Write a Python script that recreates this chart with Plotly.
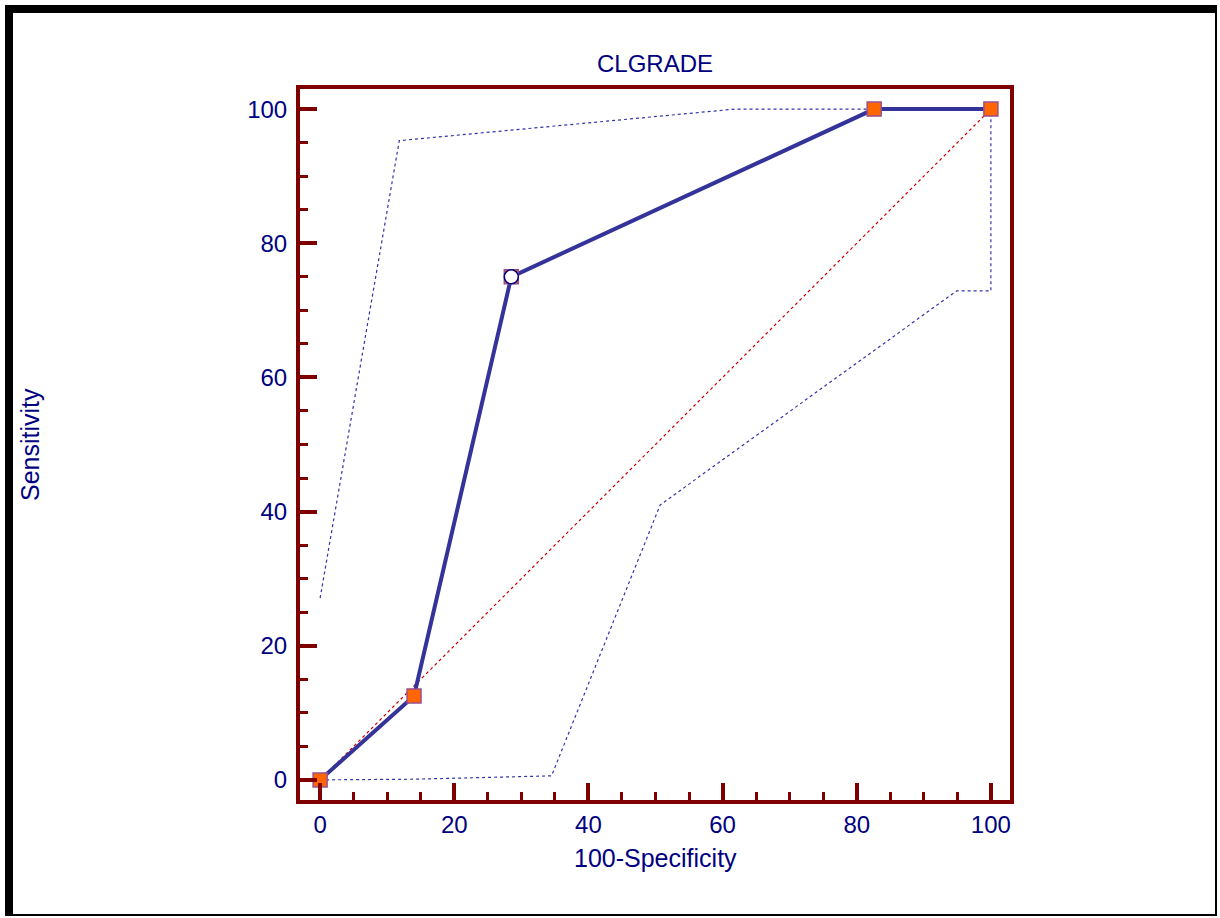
import plotly.graph_objects as go

# ROC curve data
roc_x = [0, 14.0, 28.5, 82.6, 100]
roc_y = [0, 12.5, 75.0, 100, 100]

# optimal criterion point
opt_x = [28.5]
opt_y = [75.0]

# confidence bounds
upper_x = [0, 11.8, 61.8, 82.6, 100]
upper_y = [27.1, 95.3, 100, 100, 100]
lower_x = [0, 14.0, 34.5, 50.7, 94.9, 100, 100]
lower_y = [0, 0.1, 0.6, 41.0, 72.9, 72.9, 100]

# reference diagonal
diag_x = [0, 100]
diag_y = [0, 100]

tick_vals = [0, 20, 40, 60, 80, 100]
tick_text = ["0", "20", "40", "60", "80", "100"]

FONT = "Liberation Sans, Arial, sans-serif"
NAVY = "#000080"
MAROON = "#7F0000"

W, H = 1220, 918
L, R, T, B = 300, 210, 89, 118
PW, PH = W - L - R, H - T - B


def px(x):
    return (x - L) / PW


def py(y):
    return (H - B - y) / PH


fig = go.Figure()
fig.add_trace(go.Scatter(x=upper_x, y=upper_y, mode="lines",
                         line=dict(color="#3333AA", width=1.2, dash="dot"),
                         hoverinfo="skip", showlegend=False))
fig.add_trace(go.Scatter(x=lower_x, y=lower_y, mode="lines",
                         line=dict(color="#3333AA", width=1.2, dash="dot"),
                         hoverinfo="skip", showlegend=False))
fig.add_trace(go.Scatter(x=diag_x, y=diag_y, mode="lines",
                         line=dict(color="#CC0000", width=1.2, dash="dot"),
                         hoverinfo="skip", showlegend=False))
fig.add_trace(go.Scatter(x=roc_x, y=roc_y, mode="lines+markers",
                         line=dict(color="#333399", width=4),
                         marker=dict(symbol="square", size=14, color="#FF6600",
                                     line=dict(color="#9B4F8F", width=1.5)),
                         showlegend=False))
fig.add_trace(go.Scatter(x=opt_x, y=opt_y, mode="markers",
                         marker=dict(symbol="circle", size=14, color="white",
                                     line=dict(color=NAVY, width=1.5)),
                         showlegend=False))

axis_common = dict(
    tickvals=tick_vals, ticktext=tick_text,
    ticks="inside", ticklen=17, tickwidth=4, tickcolor=MAROON,
    minor=dict(dtick=5, ticks="inside", ticklen=8, tickwidth=3, tickcolor=MAROON),
    showline=True, linewidth=4, linecolor=MAROON, mirror=True,
    showgrid=False, zeroline=False,
    tickfont=dict(family=FONT, size=24, color=NAVY),
    fixedrange=True,
)

fig.update_xaxes(range=[-3, 102.85], ticklabelstandoff=0, **axis_common)
fig.update_yaxes(range=[-3, 103], ticklabelstandoff=4, **axis_common)

# outer frame (thick left/top, thin right/bottom)
frame = [
    (5, 5, 13, 916),
    (5, 5, 1217, 13),
    (1215, 5, 1217, 916),
    (5, 914, 1217, 916),
]
shapes = []
for x0, y0, x1, y1 in frame:
    shapes.append(dict(type="rect", xref="paper", yref="paper",
                       x0=px(x0), x1=px(x1), y0=py(y1), y1=py(y0),
                       fillcolor="black", line=dict(width=0), layer="above"))

annotations = [
    dict(text="CLGRADE", xref="paper", yref="paper", x=px(655), y=py(63),
         showarrow=False, font=dict(family=FONT, size=24, color=NAVY),
         xanchor="center", yanchor="middle"),
    dict(text="100-Specificity", xref="paper", yref="paper", x=px(655), y=py(858),
         showarrow=False, font=dict(family=FONT, size=25, color=NAVY),
         xanchor="center", yanchor="middle"),
    dict(text="Sensitivity", xref="paper", yref="paper", x=px(30), y=py(445),
         showarrow=False, font=dict(family=FONT, size=25, color=NAVY),
         textangle=-90, xanchor="center", yanchor="middle"),
]

fig.update_layout(
    width=W, height=H,
    margin=dict(l=L, r=R, t=T, b=B, autoexpand=False),
    paper_bgcolor="white", plot_bgcolor="white",
    shapes=shapes, annotations=annotations,
    showlegend=False,
)

fig.write_html("out.html", config={"displayModeBar": False})
